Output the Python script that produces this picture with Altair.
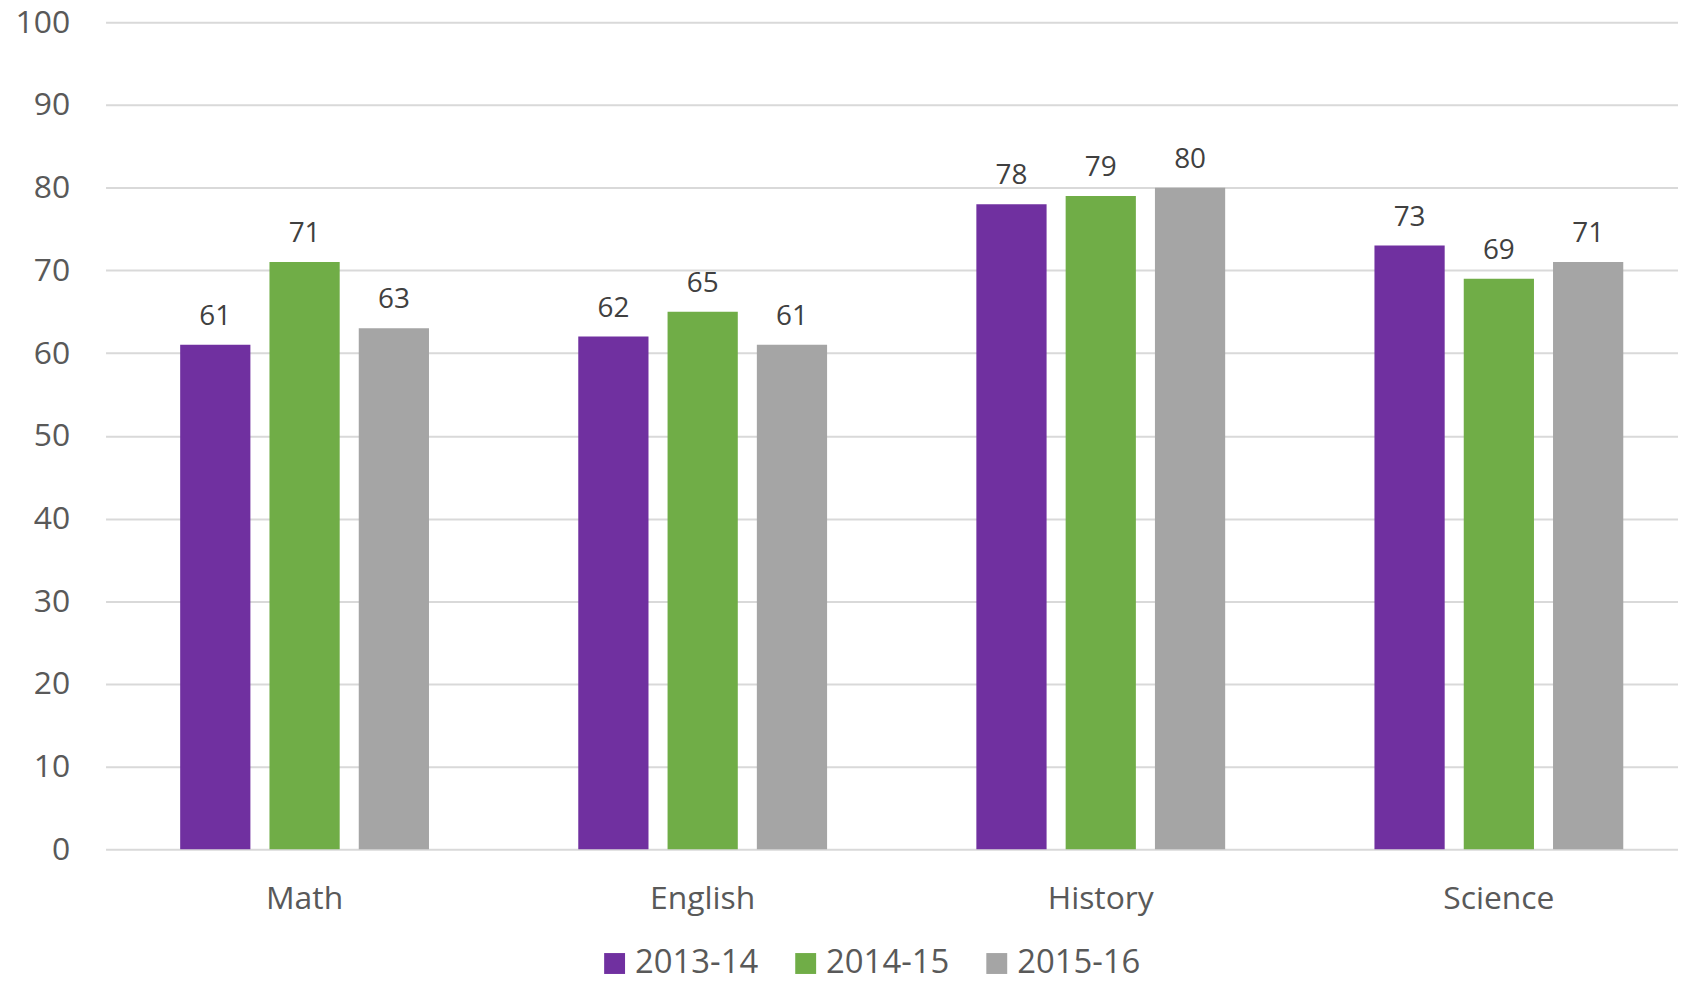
import altair as alt
import pandas as pd

subjects = ["Math", "English", "History", "Science"]
years = ["2013-14", "2014-15", "2015-16"]
v2013 = [61, 62, 78, 73]
v2014 = [71, 65, 79, 69]
v2015 = [63, 61, 80, 71]
colors = ["#7030A0", "#70AD47", "#A5A5A5"]
y_ticks = [0, 10, 20, 30, 40, 50, 60, 70, 80, 90, 100]

rows = []
for series, yr in zip([v2013, v2014, v2015], years):
    for s, v in zip(subjects, series):
        rows.append({"subject": s, "year": yr, "value": v})
df = pd.DataFrame(rows)

FONT = "Open Sans"

base = alt.Chart(df).encode(
    x=alt.X(
        "subject:N",
        sort=subjects,
        title=None,
        scale=alt.Scale(paddingInner=0.375, paddingOuter=0.1875, range=[0, 1600]),
        axis=alt.Axis(
            labelAngle=0, ticks=False, domain=False, grid=False,
            labelPadding=34, labelFontSize=32, labelColor="#595959", labelFont=FONT,
        ),
    ),
    xOffset=alt.XOffset("year:N", sort=years, scale=alt.Scale(paddingInner=0.2135, paddingOuter=0)),
    y=alt.Y(
        "value:Q",
        title=None,
        scale=alt.Scale(domain=[0, 100], nice=False),
        axis=alt.Axis(
            values=y_ticks, ticks=False, domain=False, grid=True,
            gridColor="#D9D9D9", gridWidth=2, labelPadding=36,
            labelFontSize=32, labelColor="#595959", labelFont=FONT,
        ),
    ),
)

bars = base.mark_bar().encode(
    color=alt.Color(
        "year:N",
        sort=years,
        scale=alt.Scale(domain=years, range=colors),
        legend=alt.Legend(
            title=None, orient="none", direction="horizontal",
            legendX=495, legendY=929, symbolType="square", symbolSize=441,
            symbolStrokeWidth=0, symbolOpacity=1, labelFontSize=33,
            labelFont=FONT, labelColor="#595959", labelOffset=4,
            columnPadding=31, padding=0,
        ),
    )
)

labels = base.mark_text(
    dy=-20, baseline="alphabetic", fontSize=28, font=FONT, color="#404040"
).encode(text="value:Q")

chart = (
    alt.layer(bars, labels)
    .properties(
        width=1580,
        height=831,
        background="white",
        autosize=alt.AutoSizeParams(type="none"),
        padding={"left": 98, "top": 12, "right": 0, "bottom": 132},
    )
    .configure_view(strokeWidth=0, stroke=None)
    .configure_axis(domain=False)
)

chart.save("out.html", embed_options={"renderer": "svg", "actions": False})
